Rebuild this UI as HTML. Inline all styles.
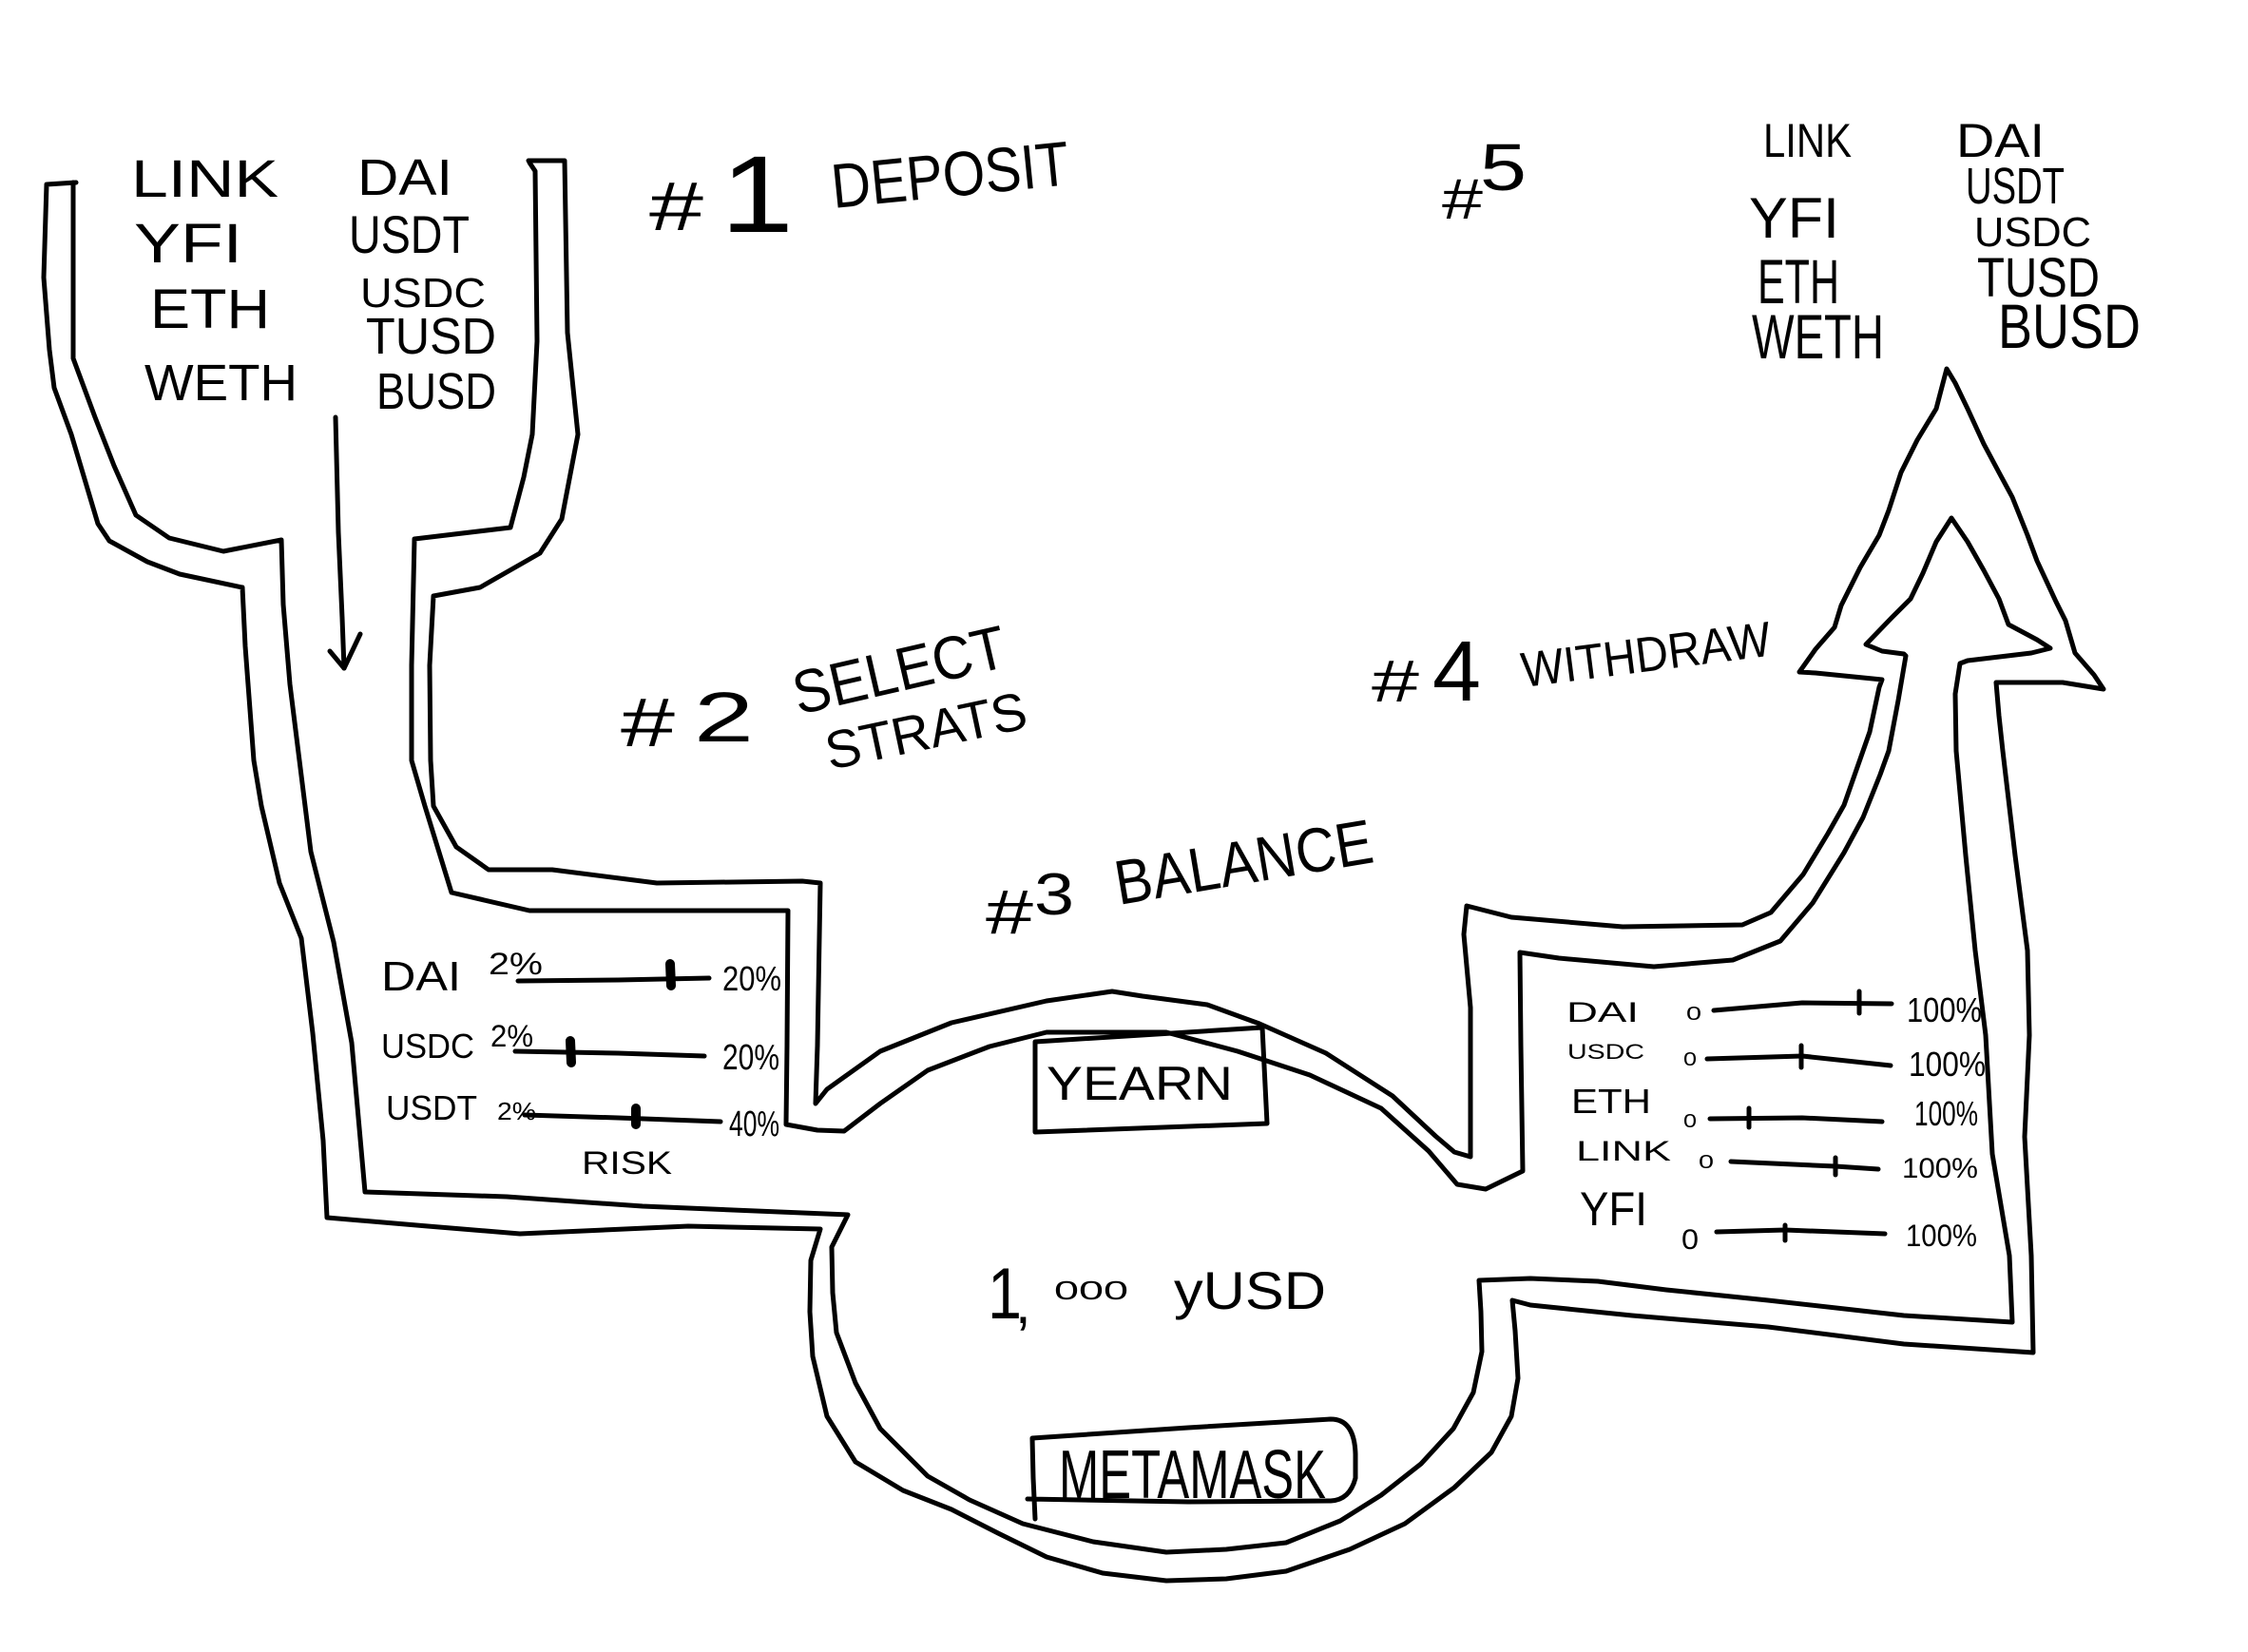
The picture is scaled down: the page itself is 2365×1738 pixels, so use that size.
<!DOCTYPE html>
<html>
<head>
<meta charset="utf-8">
<style>
html,body{margin:0;padding:0;background:#fff;}
body{width:2365px;height:1738px;overflow:hidden;}
svg{display:block;}
text{font-family:"Liberation Sans","DejaVu Sans",sans-serif;fill:#000;}
</style>
</head>
<body>
<svg width="2365" height="1738" viewBox="0 0 2365 1738" xmlns="http://www.w3.org/2000/svg">
<rect width="2365" height="1738" fill="#fff"/>
<g fill="none" stroke="#000" stroke-width="5" stroke-linejoin="round" stroke-linecap="round">
<!-- OUTER outline -->
<polyline points="80,192 49,194 46,292 52,368 57,408 75,457 103,551 115,569 155,591 189,604 255,618 258,680 267,800 275,848 294,929 317,987 329,1087 340,1200 344,1281 450,1290 547,1298 724,1290 863,1293 853,1326 852,1380 855,1427 870,1490 900,1538 950,1568 1001,1588 1050,1613 1101,1638 1160,1655 1227,1663 1290,1661 1353,1653 1420,1630 1478,1603 1530,1565 1569,1528 1590,1490 1597,1450 1594,1400 1591,1368 1610,1373 1717,1384 1860,1396 2003,1414 2139,1423 2137,1321 2130,1196 2135,1089 2133,1000 2120,900 2107,790 2103,753 2100,718 2170,718 2213,725 2203,710 2183,687 2173,653 2163,633 2143,590 2133,563 2117,523 2103,497 2087,467 2070,430 2057,403 2048,388 2043,407 2037,430 2017,463 2000,497 1987,537 1977,563 1957,597 1937,637 1930,660 1910,683 1893,707 1910,708 1980,715 1977,723 1967,770 1960,790 1940,847 1923,877 1897,920 1863,960 1833,973 1707,975 1590,965 1543,953 1540,983 1547,1060 1547,1217 1530,1212 1510,1195 1465,1153 1395,1108 1325,1077 1270,1057 1202,1048 1170,1043 1101,1053 1001,1076 926,1106 870,1146 858,1161 860,1100 863,929 844,927 691,929 581,915 514,915 480,891 456,848 453,800 452,700 456,627 505,618 568,582 591,546 608,457 597,350 594,169 556,169"/>
<!-- INNER outline -->
<polyline points="77,192 77,300 77,377 100,439 120,490 143,542 178,566 235,580 296,568 298,636 305,720 315,800 327,896 351,991 370,1097 384,1254 533,1259 676,1269 892,1278 875,1312 876,1360 880,1402 900,1455 926,1503 976,1553 1020,1578 1076,1603 1150,1622 1227,1633 1290,1630 1353,1623 1410,1600 1453,1573 1495,1540 1529,1503 1550,1465 1559,1422 1558,1380 1556,1347 1610,1345 1681,1348 1753,1357 1860,1368 2003,1384 2117,1391 2114,1321 2096,1214 2089,1089 2078,1000 2068,900 2058,790 2057,730 2062,698 2070,695 2137,687 2157,682 2143,673 2113,657 2103,630 2087,600 2070,570 2053,545 2037,570 2023,603 2010,630 1990,650 1963,678 1980,685 2003,688 2005,690 1997,737 1987,790 1978,815 1960,860 1940,897 1907,950 1873,990 1823,1010 1740,1017 1640,1008 1599,1002 1600,1100 1602,1232 1563,1251 1533,1246 1503,1211 1453,1166 1378,1131 1302,1106 1227,1086 1160,1086 1101,1086 1041,1101 976,1126 926,1161 888,1190 860,1189 827,1183 828,1100 829,958 557,958 475,939 447,848 433,800 433,700 436,567 537,555 551,502 560,457 565,359 563,180 557,171"/>
<!-- funnel arrow -->
<polyline points="353,439 356,560 360,650 362,703"/>
<polyline points="347,685 362,703 379,667"/>
<!-- YEARN box -->
<polygon points="1089,1096 1328,1081 1333,1182 1089,1191"/>
<!-- METAMASK box -->
<path d="M1089,1598 L1087,1555 L1086,1513 L1250,1502 L1400,1493 Q1425,1493 1426,1530 L1426,1555 Q1420,1578 1400,1579 L1250,1580 L1081,1577"/>
<!-- left sliders -->
<polyline points="545,1032 650,1031 746,1029"/>
<polyline points="542,1106 650,1108 741,1111"/>
<polyline points="552,1173 650,1176 758,1180"/>
<!-- right sliders -->
<polyline points="1803,1063 1896,1055 1990,1056"/>
<polyline points="1796,1114 1896,1111 1989,1121"/>
<polyline points="1799,1177 1896,1176 1980,1180"/>
<polyline points="1821,1222 1931,1227 1976,1230"/>
<polyline points="1806,1296 1878,1294 1983,1298"/>
<line x1="1956" y1="1043" x2="1956" y2="1066"/>
<line x1="1895" y1="1100" x2="1895" y2="1123"/>
<line x1="1840" y1="1166" x2="1840" y2="1186"/>
<line x1="1931" y1="1218" x2="1931" y2="1236"/>
<line x1="1878" y1="1289" x2="1878" y2="1305"/>
</g>
<!-- thumbs -->
<g stroke="#000" stroke-width="10" stroke-linecap="round">
<line x1="705" y1="1014" x2="706" y2="1037"/>
<line x1="600" y1="1095" x2="601" y2="1118"/>
<line x1="669" y1="1166" x2="669" y2="1183"/>
</g>

<!-- left tokens -->
<text x="138" y="207" font-size="56" textLength="155" lengthAdjust="spacingAndGlyphs">LINK</text>
<text x="376" y="205" font-size="54" textLength="100" lengthAdjust="spacingAndGlyphs">DAI</text>
<text x="141" y="276" font-size="58" textLength="114" lengthAdjust="spacingAndGlyphs">YFI</text>
<text x="367" y="266" font-size="56" textLength="127" lengthAdjust="spacingAndGlyphs">USDT</text>
<text x="158" y="345" font-size="58" textLength="126" lengthAdjust="spacingAndGlyphs">ETH</text>
<text x="379" y="323" font-size="44" textLength="132" lengthAdjust="spacingAndGlyphs">USDC</text>
<text x="385" y="372" font-size="54" textLength="137" lengthAdjust="spacingAndGlyphs">TUSD</text>
<text x="152" y="421" font-size="54" textLength="161" lengthAdjust="spacingAndGlyphs">WETH</text>
<text x="396" y="430" font-size="54" textLength="126" lengthAdjust="spacingAndGlyphs">BUSD</text>

<!-- right tokens -->
<text x="1855" y="165" font-size="50" textLength="93" lengthAdjust="spacingAndGlyphs">LINK</text>
<text x="2058" y="165" font-size="50" textLength="93" lengthAdjust="spacingAndGlyphs">DAI</text>
<text x="1840" y="250" font-size="60" textLength="95" lengthAdjust="spacingAndGlyphs">YFI</text>
<text x="2068" y="214" font-size="54" textLength="104" lengthAdjust="spacingAndGlyphs">USDT</text>
<text x="1849" y="319" font-size="66" textLength="86" lengthAdjust="spacingAndGlyphs">ETH</text>
<text x="2077" y="259" font-size="44" textLength="123" lengthAdjust="spacingAndGlyphs">USDC</text>
<text x="2080" y="312" font-size="58" textLength="129" lengthAdjust="spacingAndGlyphs">TUSD</text>
<text x="1843" y="377" font-size="66" textLength="139" lengthAdjust="spacingAndGlyphs">WETH</text>
<text x="2102" y="366" font-size="66" textLength="150" lengthAdjust="spacingAndGlyphs">BUSD</text>

<!-- step labels -->
<text x="683" y="242" font-size="72" textLength="57" lengthAdjust="spacingAndGlyphs">#</text>
<text x="758" y="244" font-size="115" textLength="77" lengthAdjust="spacingAndGlyphs">1</text>
<text x="877" y="219" font-size="66" textLength="251" lengthAdjust="spacingAndGlyphs" transform="rotate(-5.7 877 219)">DEPOSIT</text>

<text x="653" y="785" font-size="72" textLength="57" lengthAdjust="spacingAndGlyphs">#</text>
<text x="730" y="780" font-size="74" textLength="63" lengthAdjust="spacingAndGlyphs">2</text>
<text x="840" y="752" font-size="64" textLength="228" lengthAdjust="spacingAndGlyphs" transform="rotate(-13 840 752)">SELECT</text>
<text x="873" y="810" font-size="56" textLength="215" lengthAdjust="spacingAndGlyphs" transform="rotate(-12 873 810)">STRATS</text>

<text x="1037" y="982" font-size="66" textLength="50" lengthAdjust="spacingAndGlyphs">#</text>
<text x="1088" y="962" font-size="62" textLength="42" lengthAdjust="spacingAndGlyphs">3</text>
<text x="1177" y="952" font-size="66" textLength="274" lengthAdjust="spacingAndGlyphs" transform="rotate(-9.5 1177 952)">BALANCE</text>

<text x="1443" y="738" font-size="62" textLength="50" lengthAdjust="spacingAndGlyphs">#</text>
<text x="1507" y="737" font-size="90" textLength="51" lengthAdjust="spacingAndGlyphs">4</text>
<text x="1603" y="723" font-size="52" textLength="264" lengthAdjust="spacingAndGlyphs" transform="rotate(-7.3 1603 723)">WITHDRAW</text>

<text x="1517" y="230" font-size="60" textLength="43" lengthAdjust="spacingAndGlyphs">#</text>
<text x="1557" y="200" font-size="70" textLength="49" lengthAdjust="spacingAndGlyphs">5</text>

<!-- left slider labels -->
<text x="401" y="1042" font-size="44" textLength="84" lengthAdjust="spacingAndGlyphs">DAI</text>
<text x="514" y="1025" font-size="32" textLength="57" lengthAdjust="spacingAndGlyphs">2%</text>
<text x="760" y="1042" font-size="36" textLength="62" lengthAdjust="spacingAndGlyphs">20%</text>
<text x="401" y="1113" font-size="36" textLength="98" lengthAdjust="spacingAndGlyphs">USDC</text>
<text x="516" y="1101" font-size="32" textLength="45" lengthAdjust="spacingAndGlyphs">2%</text>
<text x="760" y="1125" font-size="38" textLength="60" lengthAdjust="spacingAndGlyphs">20%</text>
<text x="406" y="1178" font-size="36" textLength="96" lengthAdjust="spacingAndGlyphs">USDT</text>
<text x="523" y="1178" font-size="26" textLength="41" lengthAdjust="spacingAndGlyphs">2%</text>
<text x="767" y="1195" font-size="38" textLength="53" lengthAdjust="spacingAndGlyphs">40%</text>
<text x="612" y="1235" font-size="34" textLength="95" lengthAdjust="spacingAndGlyphs">RISK</text>

<!-- right slider labels -->
<text x="1648" y="1075" font-size="30" textLength="76" lengthAdjust="spacingAndGlyphs">DAI</text>
<text x="1774" y="1073" font-size="20" textLength="16" lengthAdjust="spacingAndGlyphs">0</text>
<text x="2006" y="1075" font-size="36" textLength="79" lengthAdjust="spacingAndGlyphs">100%</text>
<text x="1649" y="1114" font-size="22" textLength="81" lengthAdjust="spacingAndGlyphs">USDC</text>
<text x="1771" y="1121" font-size="20" textLength="14" lengthAdjust="spacingAndGlyphs">0</text>
<text x="2008" y="1132" font-size="36" textLength="81" lengthAdjust="spacingAndGlyphs">100%</text>
<text x="1653" y="1171" font-size="36" textLength="84" lengthAdjust="spacingAndGlyphs">ETH</text>
<text x="1771" y="1186" font-size="20" textLength="14" lengthAdjust="spacingAndGlyphs">0</text>
<text x="2014" y="1184" font-size="36" textLength="67" lengthAdjust="spacingAndGlyphs">100%</text>
<text x="1658" y="1221" font-size="30" textLength="100" lengthAdjust="spacingAndGlyphs">LINK</text>
<text x="1787" y="1229" font-size="20" textLength="16" lengthAdjust="spacingAndGlyphs">0</text>
<text x="2001" y="1239" font-size="30" textLength="80" lengthAdjust="spacingAndGlyphs">100%</text>
<text x="1662" y="1289" font-size="50" textLength="71" lengthAdjust="spacingAndGlyphs">YFI</text>
<text x="1769" y="1314" font-size="30" textLength="18" lengthAdjust="spacingAndGlyphs">0</text>
<text x="2005" y="1311" font-size="32" textLength="75" lengthAdjust="spacingAndGlyphs">100%</text>

<!-- center -->
<text x="1101" y="1157" font-size="50" textLength="196" lengthAdjust="spacingAndGlyphs">YEARN</text>
<text x="1039" y="1387" font-size="76" textLength="36" lengthAdjust="spacingAndGlyphs">1</text>
<text x="1068" y="1392" font-size="60">,</text>
<text x="1109" y="1367" font-size="28" textLength="78" lengthAdjust="spacingAndGlyphs">000</text>
<text x="1235" y="1377" font-size="56" textLength="160" lengthAdjust="spacingAndGlyphs">yUSD</text>
<text x="1114" y="1576" font-size="72" textLength="281" lengthAdjust="spacingAndGlyphs">METAMASK</text>
</svg>
</body>
</html>
